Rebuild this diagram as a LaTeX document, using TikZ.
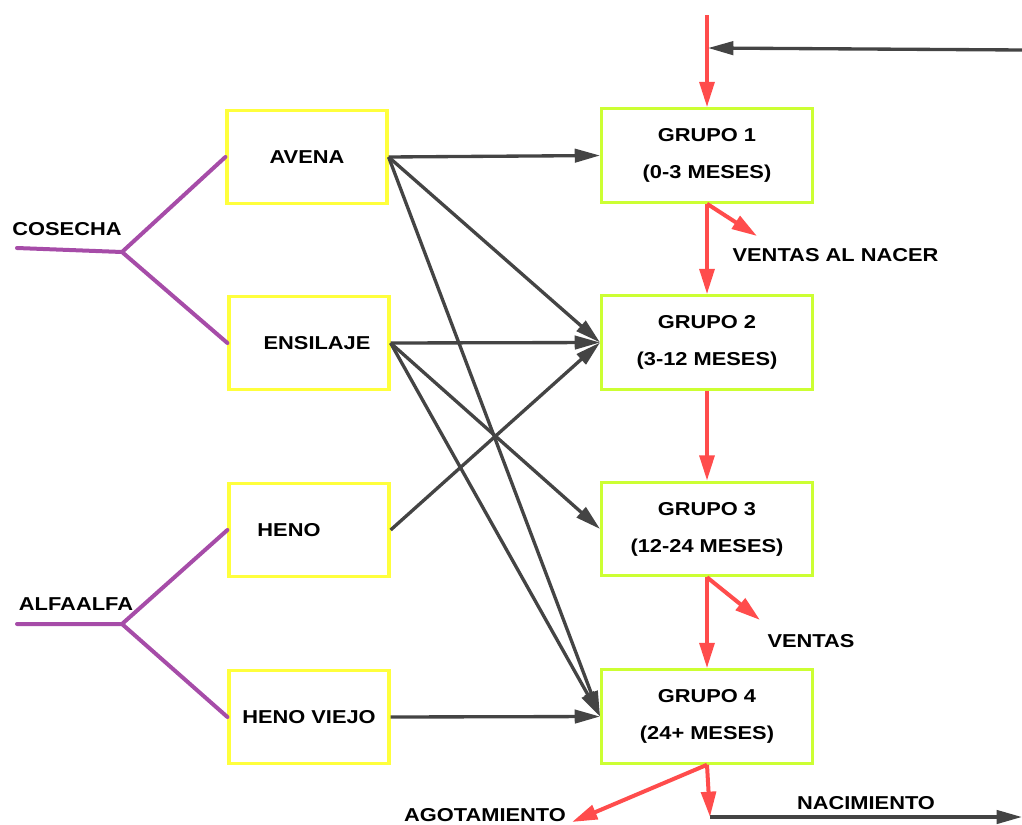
\documentclass[tikz,border=0pt]{standalone}
\usepackage{fontspec}
\setmainfont{Liberation Sans}[FakeStretch=1.17]
\usetikzlibrary{arrows.meta,positioning}
\definecolor{amarillo}{HTML}{FFFF3C}
\definecolor{lima}{HTML}{CCFF33}
\definecolor{rojo}{HTML}{FF4C4C}
\definecolor{gris}{HTML}{444444}
\definecolor{lila}{HTML}{A64CA8}

\begin{document}
\begin{tikzpicture}[x=0.75pt, y=-0.75pt, font=\bfseries\fontsize{14}{27.75}\selectfont,
  box/.style={draw, line width=2.4pt, minimum height=70pt, inner sep=2pt},
  grano/.style={box, draw=amarillo, minimum width=120pt},
  grupo/.style={box, draw=lima, minimum width=158pt, align=center},
  etiq/.style={inner sep=1pt, text=black},
  arr/.style={-{Triangle[length=19pt,width=10pt]}, line width=2.5pt, gris},
  flujo/.style={-{Triangle[length=19pt,width=11pt]}, line width=3pt, rojo},
  rama/.style={line width=3pt, lila, line cap=round}]
\useasboundingbox (0,0) rectangle (1022,825);
% forrajes
\node[grano] (avena) at (307,157) {AVENA};
\node[grano] (ensilaje) at (309,343) {\hspace*{12pt}ENSILAJE};
\node[grano] (heno) at (309,530) {HENO\hspace*{30pt}};
\node[grano] (henoviejo) at (309,717) {HENO VIEJO};
% grupos de edad
\node[grupo] (g1) at (707,155.5) {GRUPO 1\\(0-3 MESES)};
\node[grupo] (g2) at (707,342.5) {GRUPO 2\\(3-12 MESES)};
\node[grupo] (g3) at (707,529) {GRUPO 3\\(12-24 MESES)};
\node[grupo] (g4) at (707,716.5) {GRUPO 4\\(24+ MESES)};
% origen de los forrajes
\node[etiq] (cosecha) at (67,229) {COSECHA};
\node[etiq] (alfa) at (76,604) {ALFAALFA};
\coordinate (cos0) at (17,248);
\coordinate (cosj) at (122,252);
\coordinate (alf0) at (17,624);
\coordinate (alfj) at (122,624);
\draw[rama] (cos0) -- (cosj) -- (avena.west);
\draw[rama] (cosj) -- (ensilaje.west);
\draw[rama] (alf0) -- (alfj) -- (heno.west);
\draw[rama] (alfj) -- (henoviejo.west);
% alimentacion
\draw[arr] (avena.east) -- (g1.west);
\draw[arr] (avena.east) -- (g2.west);
\draw[arr] (avena.east) -- (g4.west);
\draw[arr] (ensilaje.east) -- (g2.west);
\draw[arr] (ensilaje.east) -- (g3.west);
\draw[arr] (ensilaje.east) -- (g4.west);
\draw[arr] (heno.east) -- (g2.west);
\draw[arr] (henoviejo.east) -- (g4.west);
% flujo del hato
\coordinate (entrada) at (707,15);
\coordinate (junta) at (708,48);
\coordinate (retorno) at (1022,50);
\draw[flujo] (entrada) -- (g1.north);
\draw[arr] (retorno) -- (junta);
\draw[flujo] (g1) -- (g2);
\draw[flujo] (g2) -- (g3);
\draw[flujo] (g3) -- (g4);
\node[etiq, anchor=west] (vnacer) at (731,255) {VENTAS AL NACER};
\coordinate (vn) at (757,236);
\draw[flujo] (g1.south) -- (vn);
\node[etiq] (ventas) at (811,641) {VENTAS};
\coordinate (vt) at (760,620);
\draw[flujo] (g3.south) -- (vt);
\node[etiq] (agot) at (485,815) {AGOTAMIENTO};
\coordinate (ag) at (572,822);
\draw[flujo] (g4.south) -- (ag);
\coordinate (naci) at (710,817);
\coordinate (fin) at (1022,817);
\draw[flujo] (g4.south) -- (naci);
\draw[arr] (naci) -- (fin) node[midway, above=3pt, etiq] (nacim) {NACIMIENTO};
\end{tikzpicture}
\end{document}
